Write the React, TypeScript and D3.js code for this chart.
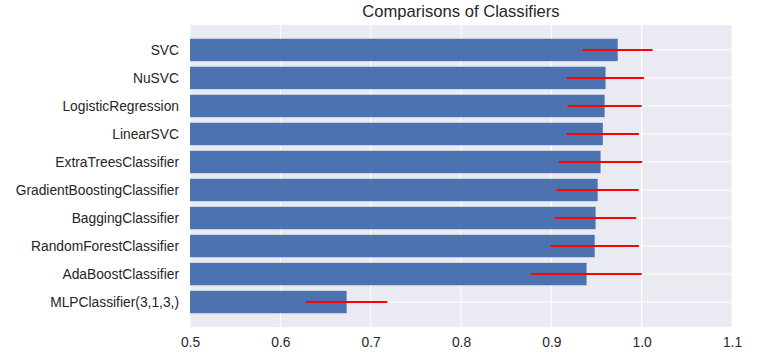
import React, { useEffect, useRef } from 'react';
import * as d3 from 'd3';

const classifiers = [
  'SVC',
  'NuSVC',
  'LogisticRegression',
  'LinearSVC',
  'ExtraTreesClassifier',
  'GradientBoostingClassifier',
  'BaggingClassifier',
  'RandomForestClassifier',
  'AdaBoostClassifier',
  'MLPClassifier(3,1,3,)',
];
const meanScores = [0.9735, 0.960, 0.959, 0.957, 0.9545, 0.9513, 0.949, 0.948, 0.939, 0.6734];
const scoreErrors = [0.0385, 0.0427, 0.041, 0.040, 0.046, 0.0455, 0.045, 0.049, 0.061, 0.045];
const xTicks = [0.5, 0.6, 0.7, 0.8, 0.9, 1.0, 1.1];

const W = 766;
const H = 362;

const App = () => {
  const ref = useRef<SVGSVGElement>(null);

  useEffect(() => {
    const svg = d3.select(ref.current);
    svg.selectAll('*').remove();

    const margin = { top: 25, right: 34, bottom: 35, left: 190 };
    const x = d3.scaleLinear().domain([0.5, 1.1]).range([margin.left, W - margin.right]);
    // matplotlib barh: bars of height 0.8, centres at integer positions, 5% margins
    const y = d3.scaleLinear()
      .domain([-0.89, classifiers.length - 1 + 0.89])
      .range([margin.top, H - margin.bottom]);
    const step = y(1) - y(0);
    const font = '"Liberation Sans", Arial, sans-serif';

    svg.append('rect')
      .attr('x', margin.left)
      .attr('y', margin.top)
      .attr('width', W - margin.right - margin.left)
      .attr('height', H - margin.bottom - margin.top)
      .attr('fill', '#EAEAF2');

    svg.append('g')
      .selectAll('line')
      .data(xTicks)
      .enter().append('line')
      .attr('x1', d => x(d)).attr('x2', d => x(d))
      .attr('y1', margin.top).attr('y2', H - margin.bottom)
      .attr('stroke', '#fff').attr('stroke-width', 1);

    svg.append('g')
      .selectAll('line')
      .data(classifiers)
      .enter().append('line')
      .attr('x1', margin.left).attr('x2', W - margin.right)
      .attr('y1', (d, i) => y(i)).attr('y2', (d, i) => y(i))
      .attr('stroke', '#fff').attr('stroke-width', 1);

    svg.append('g')
      .selectAll('rect')
      .data(meanScores)
      .enter().append('rect')
      .attr('x', x(0.5))
      .attr('y', (d, i) => y(i) - step * 0.4)
      .attr('width', d => x(d) - x(0.5))
      .attr('height', step * 0.8)
      .attr('fill', '#4C72B0');

    svg.append('g')
      .selectAll('line')
      .data(meanScores)
      .enter().append('line')
      .attr('x1', (d, i) => x(d - scoreErrors[i]))
      .attr('x2', (d, i) => x(d + scoreErrors[i]))
      .attr('y1', (d, i) => y(i)).attr('y2', (d, i) => y(i))
      .attr('stroke', '#FF0000').attr('stroke-width', 2);

    const yAxis = svg.append('g')
      .attr('transform', `translate(${margin.left},0)`)
      .call(d3.axisLeft(y).tickValues(d3.range(classifiers.length)).tickFormat((d, i) => classifiers[i]).tickSize(0).tickPadding(11));
    yAxis.select('.domain').remove();
    yAxis.selectAll('text')
      .attr('font-family', font).attr('font-size', 13.8).attr('fill', '#262626');

    const xAxis = svg.append('g')
      .attr('transform', `translate(0,${H - margin.bottom})`)
      .call(d3.axisBottom(x).tickValues(xTicks).tickFormat(d3.format('.1f')).tickSize(0).tickPadding(10));
    xAxis.select('.domain').remove();
    xAxis.selectAll('text')
      .attr('font-family', font).attr('font-size', 13.8).attr('fill', '#262626');

    svg.append('text')
      .attr('x', (margin.left + W - margin.right) / 2)
      .attr('y', 17)
      .attr('text-anchor', 'middle')
      .attr('font-family', font)
      .attr('font-size', 16.6)
      .attr('fill', '#262626')
      .text('Comparisons of Classifiers');
  }, []);

  return <svg ref={ref} width={W} height={H} style={{ position: 'absolute', left: 0, top: 0 }} />;
};

export default App;
